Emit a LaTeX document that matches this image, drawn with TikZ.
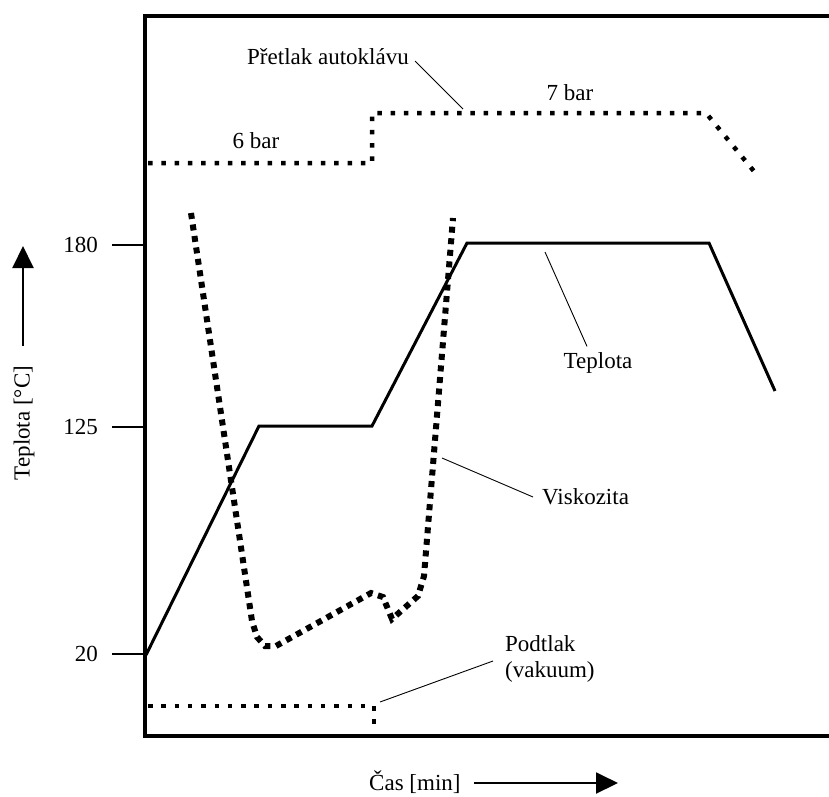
\documentclass[tikz,border=0pt]{standalone}
\usepackage{fontspec}
\setmainfont{Liberation Serif}
\usetikzlibrary{arrows.meta}
\begin{document}
\begin{tikzpicture}[x=1pt,y=-1pt,
  lbl/.style={font=\fontsize{23}{26}\selectfont, inner sep=0pt},
  frameline/.style={line width=3.5pt},
  templine/.style={line width=3pt, line join=miter},
  pressdots/.style={line width=4.5pt, dash pattern=on 4.5pt off 8.8pt},
  viscdots/.style={line width=6pt, dash pattern=on 6pt off 5.6pt},
  leader/.style={line width=0.9pt},
  tickline/.style={line width=2pt},
  axarrow/.style={line width=2pt, -{Triangle[length=22pt,width=21pt]}}]
\useasboundingbox (0,0) rectangle (829,796);

% frame (right side outside the picture)
\draw[frameline] (835,16) -- (145,16) -- (145,736) -- (835,736);

% ticks and labels
\draw[tickline] (112,245) -- (145,245);
\draw[tickline] (112,427) -- (145,427);
\draw[tickline] (112,654) -- (145,654);
\node[lbl, anchor=east] (t180) at (98,245) {180};
\node[lbl, anchor=east] (t125) at (98,427) {125};
\node[lbl, anchor=east] (t20) at (98,654) {20};

% axis labels
\node[lbl, rotate=90] (ylab) at (24,423) {Teplota [°C]};
\coordinate (ytail) at (23,346);
\coordinate (ytip) at (23,246);
\draw[axarrow] (ytail) -- (ytip);
\node[lbl, anchor=west] (xlab) at (369,782) {Čas [min]};
\coordinate (xtail) at (474,783);
\coordinate (xtip) at (618,783);
\draw[axarrow] (xtail) -- (xtip);

% temperature
\draw[templine] (146,655) -- (259,426) -- (372,426) -- (467,243) -- (709,243) -- (775,391);

% autoclave pressure
\draw[pressdots] (148,163) -- (372,163) -- (372,113) -- (706,113) -- (757,175);
% vacuum
\draw[pressdots] (148,706) -- (374,706) -- (374,727);

% viscosity
\draw[viscdots] (191,213) -- (252,621) -- (257,637) -- (265,646) -- (276,646)
  -- (371,593) -- (383,597) -- (392,619) -- (418,596) -- (424,576) -- (453,218);

% labels with leaders
\node[lbl, anchor=east] (pret) at (409,57) {Přetlak autoklávu};
\coordinate (pretend) at (463,109);
\draw[leader] ([xshift=6pt,yshift=-4pt]pret.east) -- (pretend);

\node[lbl] (six) at (256,141) {6 bar};
\node[lbl] (seven) at (570,93) {7 bar};

\node[lbl] (tep) at (598,363) {Teplota};
\coordinate (tepend) at (545,252);
\draw[leader] ([xshift=-11pt,yshift=6pt]tep.north) -- (tepend);

\node[lbl, anchor=west] (visk) at (542,497) {Viskozita};
\coordinate (viskend) at (442,458);
\draw[leader] ([xshift=-9pt]visk.west) -- (viskend);

\node[lbl, anchor=west, align=left] (pod) at (505,659) {Podtlak\\(vakuum)};
\coordinate (podend) at (380,702);
\draw[leader] ([xshift=-12pt,yshift=-2pt]pod.west) -- (podend);
\end{tikzpicture}
\end{document}
